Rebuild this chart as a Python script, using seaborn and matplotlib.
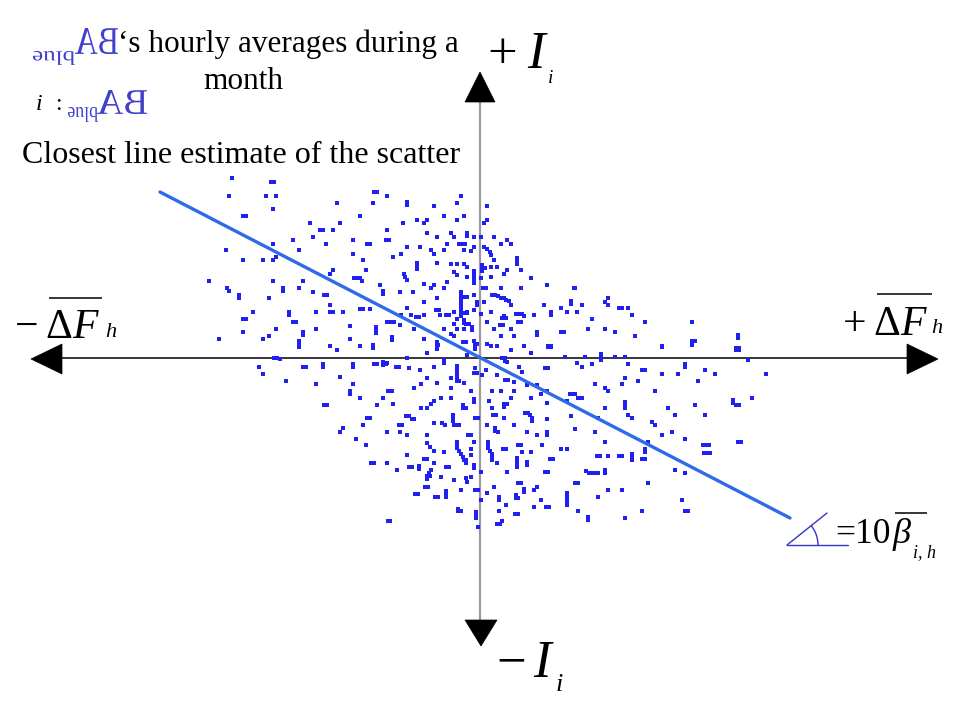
import numpy as np
import pandas as pd
import matplotlib
matplotlib.use("Agg")
import matplotlib.pyplot as plt
import seaborn as sns
from matplotlib.textpath import TextPath
from matplotlib.patches import PathPatch, Polygon, Arc
from matplotlib.font_manager import FontProperties
from matplotlib.transforms import Affine2D

# ---------------- data: (mean hourly dF, imbalance I) pairs, arbitrary units ----------------
upper_left = [
    (-248,180),(-209,176),(-206,176),(-251,162),(-214,162),(-204,162),(-106,166),(-103,166),
    (-93,162),(-143,155),(-107,155),(-207,149),(-237,142),(-234,142),(-120,142),(-170,135),
    (-140,135),(-160,128),(-157,128),(-147,128),(-93,128),(-187,118),(-167,121),(-127,118),
    (-113,114),(-110,114),(-94,118),(-91,118),(-207,114),(-154,114),(-254,108),(-181,108),
    (-127,104),(-237,98),(-217,98),(-207,98),(-204,101),(-117,98),(-147,88),(-150,84),
    (-114,88),(-271,77),(-207,77),(-177,77),(-126,80),(-123,80),(-120,80),(-118,77),
    (-253,70),(-251,67),(-197,70),(-197,67),(-181,70),(-167,66),(-100,73),(-97,67),(-97,64),
    (-241,63),(-241,60),(-211,60),(-156,63),(-153,63),(-150,53),(-227,46),(-191,46),(-191,43),
    (-164,46),(-150,46),(-147,46),(-137,46),(-120,49),(-117,49),(-110,49),(-237,39),(-234,39),
    (-187,36),(-184,36),(-130,32),(-93,36),(-204,29),(-164,29),(-237,26),(-177,26),(-177,23),
    (-104,31),(-104,28),(-104,25),(-261,19),(-217,19),(-211,22),(-181,17),(-181,14),(-181,11),
    (-130,19),(-150,12),(-120,12),(-107,13),(-107,10),
]
upper_center = [
    (-19,162),(-73,156),(-73,153),(-46,152),(-23,155),(7,152),(-77,135),(-63,138),(-53,138),
    (-56,135),(-36,142),(-23,138),(-16,142),(4,135),(7,138),(-53,125),(-43,121),(-29,125),
    (-26,121),(-13,125),(-13,122),(-6,121),(1,121),(14,121),(27,118),(31,114),(-60,111),
    (-73,111),(-33,114),(-21,114),(-18,114),(-15,114),(21,114),(-79,104),(-87,101),(-49,108),
    (-46,104),(-36,108),(-16,108),(-6,111),(-9,107),(4,111),(7,109),(10,106),(11,103),(-43,95),
    (-63,95),(-63,92),(-63,89),(14,98),(37,100),(37,97),(37,94),(-29,94),(-23,94),(-16,94),
    (-13,91),(2,93),(2,90),(2,87),(5,90),(11,91),(17,91),(27,88),(24,84),(41,88),(-76,84),
    (-75,81),(-73,78),(-26,86),(-23,83),(-6,87),(-6,84),(-6,81),(-6,78),(-6,75),(-13,81),
    (1,80),(11,81),(51,80),(-33,76),(-56,74),(-46,73),(-36,70),(-49,70),(3,70),(6,70),(21,70),
    (41,70),(67,73),(94,70),(-80,66),(-67,66),(-19,66),(-19,63),(-19,60),(-19,57),(-19,54),
    (-19,51),(-19,48),(-19,45),(-19,42),(-16,61),(-13,61),(-16,45),(-13,45),(-6,63),(12,63),
    (15,63),(18,62),(21,60),(24,60),(26,58),(29,57),(-56,56),(-43,60),(-3,56),(4,56),(31,53),
    (64,53),(81,50),(91,57),(91,54),(97,46),(-73,50),(-89,36),(-86,36),(-44,48),(-41,48),
    (-40,43),(-34,43),(-31,43),(-26,46),(-13,46),(-6,48),(-3,53),(1,44),(11,46),(24,42),
    (22,40),(26,40),(36,44),(39,44),(42,44),(44,42),(54,43),(71,46),(71,43),(87,46),(-79,43),
    (-69,43),(-64,41),(-61,41),(-56,43),(-23,39),(-16,38),(-16,35),(-14,34),(-11,34),(-26,34),
    (7,36),(20,33),(23,33),(38,36),(41,36),(57,26),(57,23),(81,26),(84,26),(-80,33),(-66,29),
    (-36,29),(-29,24),(-23,29),(-16,29),(-8,31),(-8,28),(14,29),(31,29),(-88,21),(-88,18),
    (-56,19),(-43,16),(-42,13),(-26,22),(-17,16),(-14,16),(-6,17),(-3,14),(-5,14),(7,14),
    (21,22),(34,22),(17,12),(44,12),(68,12),(71,12),
]
upper_right = [
    (95,70),(102,53),(125,56),(128,60),(128,53),(139,50),(142,50),(148,50),(152,43),(112,39),
    (165,36),(212,36),(108,29),(125,29),(135,26),(155,22),(212,17),(215,17),(212,15),(258,23),
    (258,20),(182,12),(256,10),(259,10),
]
lower_left = [
    (-143,8),(-206,0),(-203,0),(-200,-1),(-221,-9),(-217,-16),(-194,-23),(-177,-9),(-174,-9),
    (-157,-6),(-157,-9),(-127,-6),(-127,-9),(-106,-6),(-103,-6),(-97,-4),(-97,-7),(-94,-6),
    (-140,-19),(-164,-26),(-127,-26),(-130,-33),(-130,-36),(-120,-40),(-92,-33),(-97,-40),
    (-156,-47),(-153,-47),(-103,-47),(-113,-60),(-110,-60),(-117,-67),(-137,-70),(-140,-74),
    (-93,-74),(-124,-81),(-114,-87),(-109,-105),(-106,-105),(-93,-105),(-92,-163),
]
lower_center = [
    (-43,12),(-43,9),(-5,12),(-5,9),(11,12),(31,8),(51,5),(68,11),(71,11),(-73,0),(-53,5),
    (-36,-2),(-36,-5),(-23,-8),(-23,-11),(-23,-14),(-23,-17),(-23,-20),(-23,-23),(-21,-23),
    (-13,3),(-5,-10),(-6,-15),(-3,-15),(22,0),(25,0),(27,-4),(25,-3),(39,-9),(42,-14),
    (65,-10),(68,-10),(85,1),(97,-5),(-93,-5),(-84,-9),(-81,-9),(-71,-10),(-60,-12),(-46,-9),
    (-53,-20),(-43,-25),(-29,-20),(-16,-25),(2,-17),(6,-12),(17,-17),(25,-22),(28,-22),
    (34,-24),(47,-27),(57,-27),(-91,-33),(-88,-33),(-66,-30),(-59,-26),(-29,-30),(-9,-33),
    (12,-33),(21,-33),(34,-33),(61,-36),(67,-33),(90,-36),(93,-36),(98,-40),(-87,-46),
    (-59,-50),(-53,-50),(-49,-46),(-46,-43),(-39,-40),(-29,-40),(-17,-50),(-14,-50),(-17,-47),
    (-6,-41),(-6,-44),(9,-43),(12,-50),(24,-46),(24,-49),(27,-46),(31,-40),(51,-40),(67,-45),
    (87,-43),(45,-55),(48,-55),(50,-57),(52,-60),(52,-63),(67,-61),(91,-58),(-74,-58),
    (-71,-58),(-68,-61),(-66,-61),(-81,-67),(-78,-67),(-46,-65),(-38,-65),(-35,-67),(-27,-57),
    (-27,-60),(-27,-63),(-26,-67),(-23,-67),(-21,-67),(-5,-60),(-2,-60),(13,-57),(16,-57),
    (24,-60),(7,-67),(15,-70),(15,-73),(18,-74),(34,-67),(47,-74),(57,-77),(67,-74),(67,-77),
    (-93,-74),(-80,-74),(-73,-77),(-53,-77),(-12,-77),(-9,-77),(-53,-85),(-50,-89),(-46,-93),
    (-36,-94),(-23,-84),(-23,-87),(-23,-90),(-21,-93),(-19,-96),(-17,-99),(-16,-102),
    (-14,-102),(-9,-91),(-6,-84),(-9,-97),(8,-84),(8,-87),(8,-90),(10,-93),(12,-96),(12,-99),
    (12,-102),(23,-91),(26,-91),(38,-87),(41,-87),(42,-94),(51,-94),(37,-100),(37,-103),
    (37,-106),(62,-87),(81,-91),(87,-91),(-73,-97),(-56,-101),(-53,-101),(-46,-105),(-71,-109),
    (-68,-109),(-61,-108),(-61,-111),(-49,-112),(-51,-115),(-53,-118),(-53,-121),(-50,-118),
    (-34,-109),(-31,-109),(-14,-105),(-6,-107),(-6,-110),(1,-114),(17,-105),(27,-114),
    (37,-109),(47,-104),(47,-107),(70,-101),(73,-101),(65,-114),(68,-114),(-83,-112),
    (-93,-105),(-26,-122),(-14,-120),(-13,-124),(-9,-119),(-39,-119),(-5,-132),(-2,-132),
    (-55,-129),(-52,-129),(-34,-133),(-34,-136),(-34,-139),(-45,-139),(-42,-139),(-65,-136),
    (-62,-136),(-19,-132),(1,-142),(7,-135),(14,-129),(19,-139),(19,-142),(26,-147),(36,-137),
    (36,-140),(38,-140),(38,-125),(41,-125),(44,-131),(44,-134),(54,-132),(57,-129),(54,-149),
    (61,-142),(66,-149),(69,-149),(87,-135),(87,-138),(87,-141),(87,-144),(87,-147),(95,-125),
    (98,-125),(98,-153),(-22,-153),(-19,-153),(-22,-151),(-4,-154),(-4,-157),(-4,-160),
    (19,-153),(22,-163),(35,-156),(38,-156),(-90,-163),(-2,-169),(17,-166),(20,-166),
]
lower_right = [
    (182,11),(212,13),(256,8),(259,8),(105,1),(121,4),(121,1),(121,-2),(135,1),(145,1),
    (102,-9),(112,-6),(148,-6),(162,-12),(165,-12),(182,-16),(198,-16),(205,-6),(205,-9),
    (225,-12),(235,-16),(268,-2),(286,-16),(145,-20),(158,-23),(142,-26),(115,-26),(125,-30),
    (128,-33),(175,-33),(218,-23),(95,-36),(99,-40),(102,-40),(145,-44),(145,-47),(145,-50),
    (125,-50),(188,-50),(195,-57),(215,-47),(225,-57),(253,-42),(253,-45),(256,-47),(259,-47),
    (272,-40),(148,-57),(152,-60),(172,-64),(175,-67),(118,-60),(115,-74),(182,-77),(192,-74),
    (205,-81),(95,-71),(125,-84),(168,-84),(165,-91),(165,-94),(223,-87),(226,-87),(229,-87),
    (224,-95),(227,-95),(230,-95),(258,-84),(261,-84),(117,-98),(120,-98),(128,-98),(139,-98),
    (142,-98),(152,-96),(152,-99),(152,-102),(162,-101),(165,-101),(106,-113),(109,-115),
    (112,-115),(115,-115),(118,-115),(125,-112),(125,-115),(195,-112),(205,-115),(97,-125),
    (168,-125),(128,-132),(142,-132),(118,-139),(202,-142),(205,-153),(208,-153),(98,-153),
    (162,-153),(108,-159),(108,-162),(145,-160),
]
# closest (fitted) line end points
fit_df = [-320, 310]
fit_i = [166, -160]

groups = [upper_left, upper_center, upper_right, lower_left, lower_center, lower_right]
pts = np.array([p for g in groups for p in g], dtype=float)
df = pd.DataFrame({"dF": pts[:, 0], "I": pts[:, 1]})

# ---------------- figure ----------------
sns.set_theme(style="white")
plt.rcParams['font.family'] = ['Liberation Serif', 'DejaVu Serif']
SERIF = ['Liberation Serif', 'DejaVu Serif']

fig = plt.figure(figsize=(9.6, 7.2), dpi=100)
ax = fig.add_axes([0, 0, 1, 1])

def X(px):
    return px - 480

def Y(py):
    return 358 - py

def put(px, py, s, size, style='normal', ha='left', color='black'):
    ax.text(X(px), Y(py), s, fontsize=size, fontstyle=style, ha=ha, va='baseline',
            color=color, family=SERIF)

def bar(px0, px1, py, color='black', lw=1.1):
    ax.plot([X(px0), X(px1)], [Y(py), Y(py)], color=color, lw=lw, solid_capstyle='butt')

# axes with arrows
ax.plot([X(62), X(907)], [0, 0], color='black', lw=1.1, zorder=1)
ax.plot([0, 0], [Y(102), Y(620)], color='#9a9a9a', lw=1.6, zorder=1)
for tri in ([(X(31), -1), (X(62), 14), (X(62), -16)],
            [(X(938), -1), (X(907), 14), (X(907), -16)],
            [(0, Y(72)), (-15, Y(102)), (15, Y(102))],
            [(1, Y(646)), (-15, Y(620)), (17, Y(620))]):
    ax.add_patch(Polygon(tri, closed=True, facecolor='black', edgecolor='black', lw=0.5, zorder=3))

# scatter and fitted line
sns.scatterplot(data=df, x="dF", y="I", marker='s', s=5, color='#2020f0',
                linewidth=0, ax=ax, zorder=2, legend=False)
sns.lineplot(x=fit_df, y=fit_i, color='#2f6ae8', lw=2.4, ax=ax, zorder=4, legend=False)
ax.set_xlim(-480, 480)
ax.set_ylim(-362, 358)
ax.axis('off')

# axis labels
put(487, 68, '+', 38)
put(527, 68, 'I', 38, 'italic')
put(548, 83, 'i', 14, 'italic')

put(496, 677, '\u2212', 38)
put(533, 677, 'I', 38, 'italic')
put(556, 691, 'i', 19, 'italic')

put(15, 338, '\u2212', 30)
put(45, 338, '\u0394', 30)
put(72, 338, 'F', 30, 'italic')
bar(49, 102, 298)
put(105, 337, 'h', 16, 'italic')

put(843, 335, '+', 30)
put(873, 335, '\u0394', 30)
put(900, 335, 'F', 30, 'italic')
bar(877, 932, 294)
put(931, 333, 'h', 16, 'italic')

# angle = 10 beta
ANG = '#3535c8'
ax.plot([X(787), X(848)], [Y(545), Y(545)], color=ANG, lw=1.0)
ax.plot([X(787), X(827)], [Y(545), Y(513)], color=ANG, lw=1.0)
ax.add_patch(Arc((X(787), Y(545)), 62, 62, theta1=0, theta2=40, color=ANG, lw=1.0))
put(835, 543, '=10', 25.5)
put(893, 543, '\u03b2', 26, 'italic')
bar(895, 927, 513)
put(913, 557, 'i, h', 13, 'italic')

# mirrored "BA_blue" glyphs
MIR = '#4040cc'
fp = FontProperties(family='Liberation Serif')

def mirrored(s, px0, px1, py_top, py_bot, flip_v=False):
    path = TextPath((0, 0), s, size=100, prop=fp)
    bb = path.get_extents()
    w = X(px1) - X(px0)
    h = Y(py_top) - Y(py_bot)
    sx, sy = w / bb.width, h / bb.height
    if flip_v:
        tr = Affine2D().translate(-bb.x0, -bb.y0).scale(-sx, -sy).translate(X(px1), Y(py_top))
    else:
        tr = Affine2D().translate(-bb.x0, -bb.y0).scale(-sx, sy).translate(X(px1), Y(py_bot))
    ax.add_patch(PathPatch(tr.transform_path(path), facecolor=MIR, edgecolor='none', lw=0, zorder=5))

mirrored('BA', 75, 118, 28, 54)
mirrored('blue', 33, 75, 51, 65, flip_v=True)
mirrored('BA', 97, 147, 90, 114)
mirrored('blue', 68, 98, 107, 122, flip_v=True)

# annotation texts
put(118, 52, '\u2018s hourly averages during a', 22.5)
put(243, 89, 'month', 22.5, ha='center')
put(36, 110, 'i', 17, 'italic')
put(55, 110, ':', 17)
put(22, 163, 'Closest line estimate of the scatter', 23)

fig.savefig('out.png', dpi=100)
